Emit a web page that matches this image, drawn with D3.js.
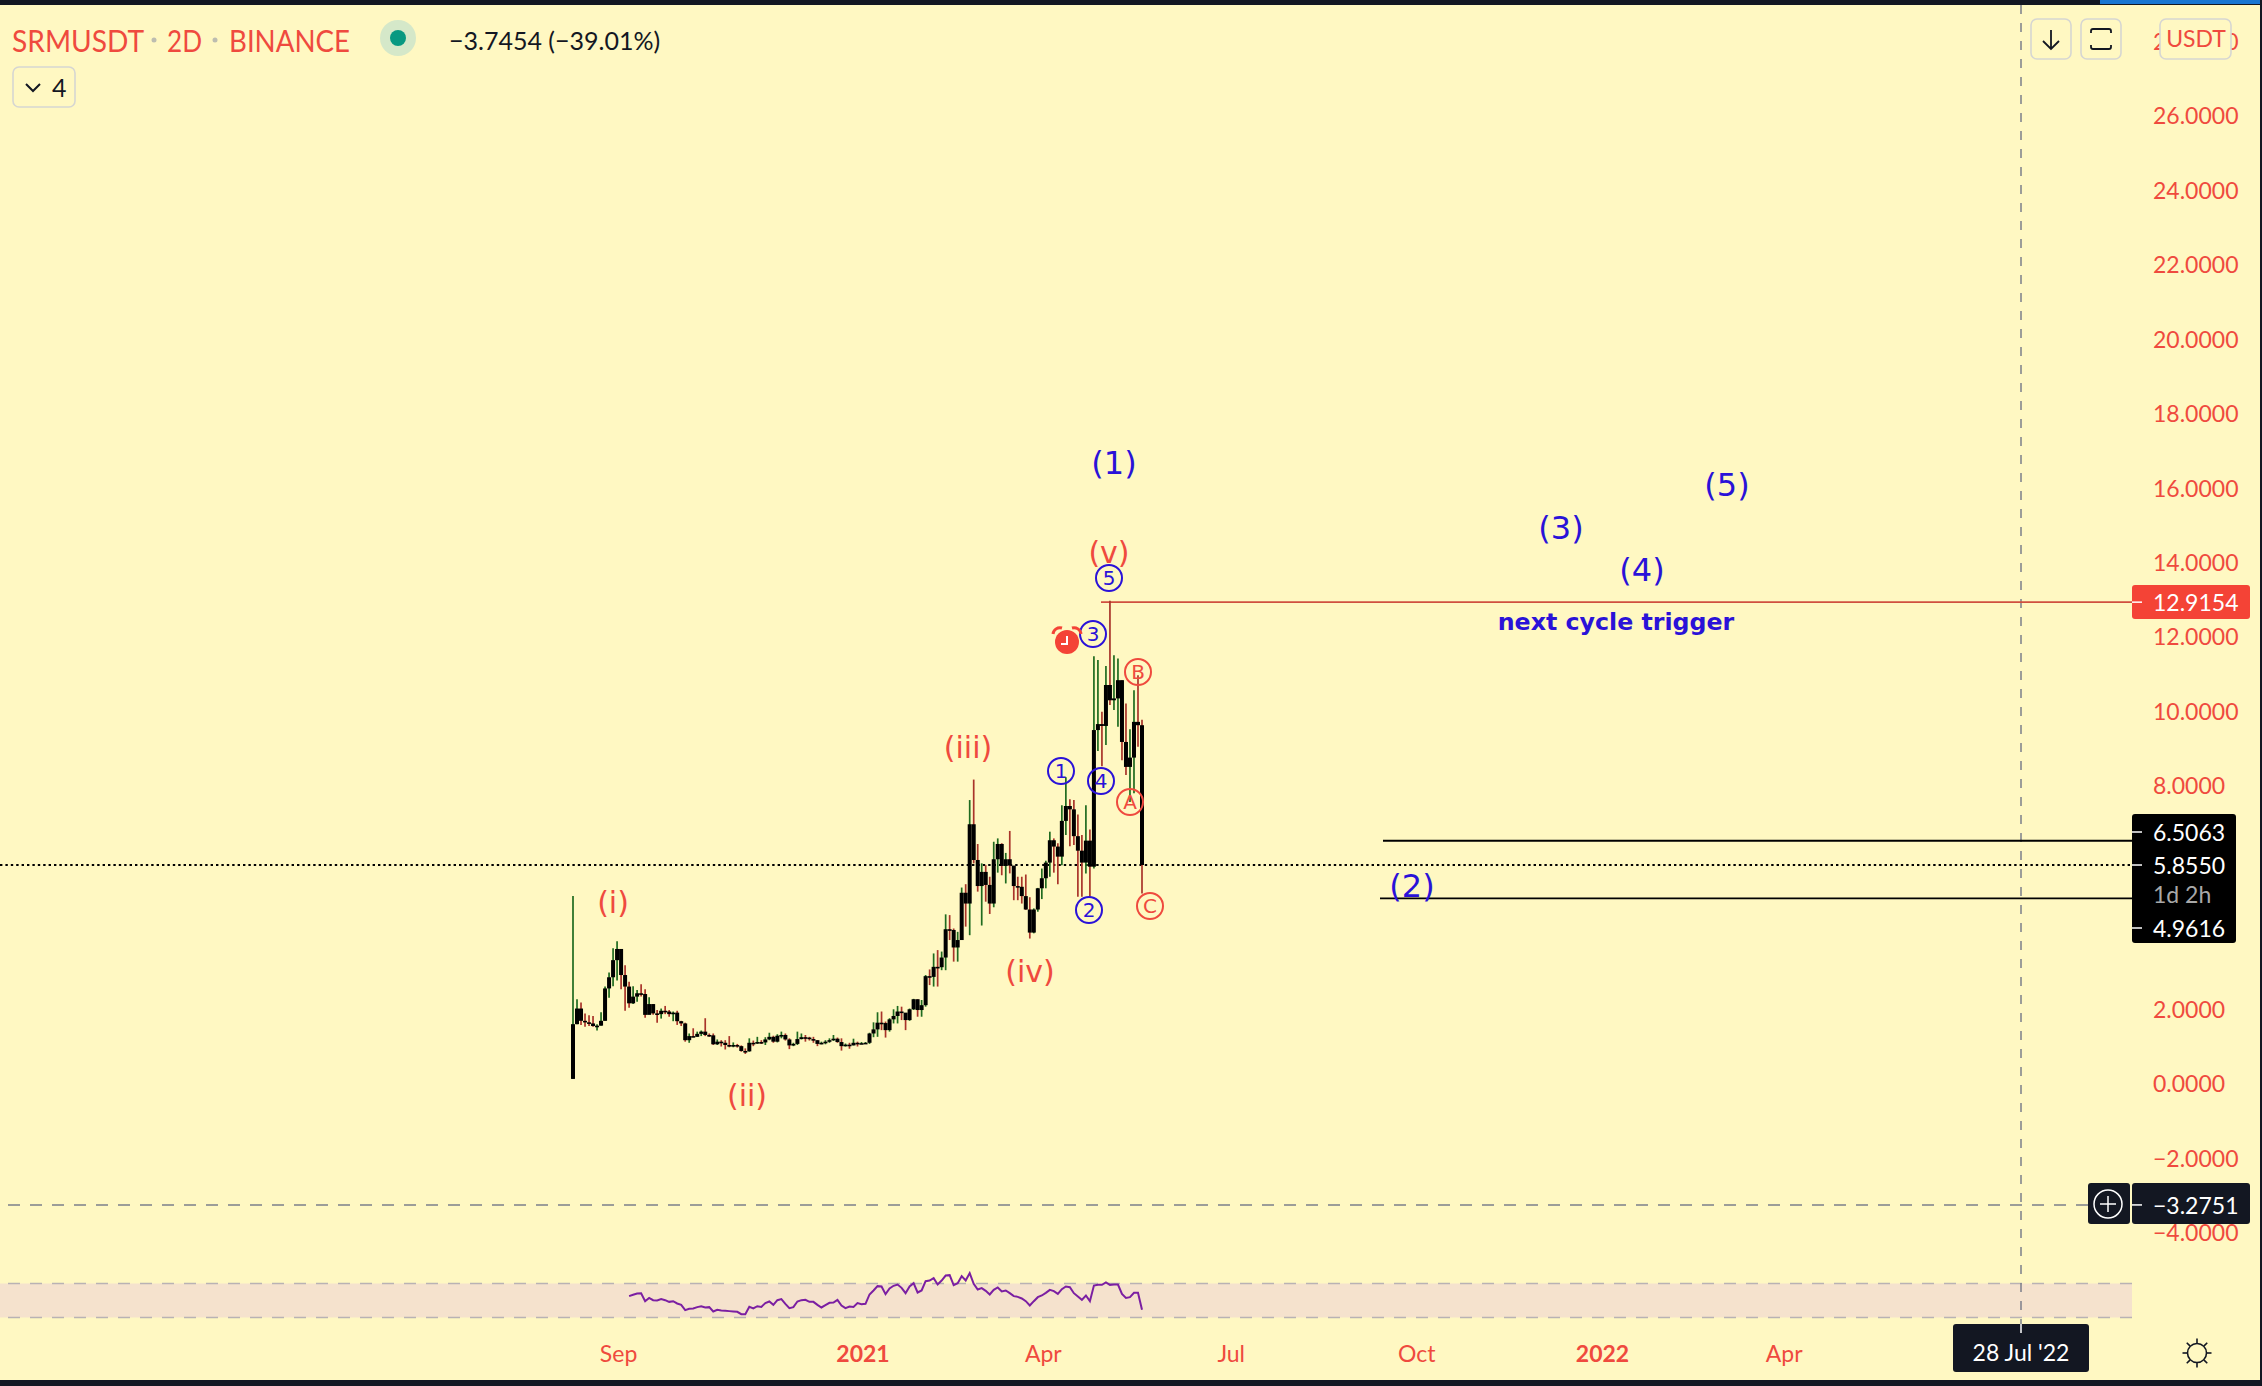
<!DOCTYPE html>
<html>

<head>
  <meta charset="utf-8">
  <title>SRMUSDT 2D</title>
  <script src="https://d3js.org/d3.v7.min.js"></script>
  <style>
    body,
    html {
      margin: 0;
      padding: 0;
      background: #131722;
    }

    svg {
      display: block;
    }

    text {
      font-family: Lato, "Open Sans", sans-serif;
    }

    .axis text {
      fill: #ef4a3e;
      font-size: 23px;
    }

    .axis .domain {
      display: none;
    }

    .wave {
      font-family: "DejaVu Sans", sans-serif;
      text-anchor: middle;
      dominant-baseline: central;
    }
  </style>
</head>

<body>
  <div id="chart"></div>

  <script>
    const firstOpen = 0.11
    const closes = [1.58, 2.00, 1.67, 1.63, 1.60, 1.53, 1.54, 1.67, 2.54, 2.84, 3.30, 3.60, 2.90, 2.59, 2.14, 2.32, 2.41, 2.39, 1.83, 2.12,
      1.87, 1.85, 1.94, 1.92, 1.85, 1.89, 1.66, 1.60, 1.15, 1.26, 1.24, 1.32, 1.38, 1.29, 1.28, 1.04, 1.11, 1.08, 1.02, 1.01,
      1.02, 0.99, 0.86, 0.85, 1.08, 1.07, 1.10, 1.09, 1.17, 1.24, 1.11, 1.27, 1.29, 1.17, 1.01, 1.05, 1.18, 1.23, 1.22, 1.18,
      1.15, 1.05, 1.08, 1.11, 1.15, 1.19, 1.10, 0.99, 1.03, 1.01, 1.08, 1.07, 1.07, 1.08, 1.33, 1.44, 1.62, 1.61, 1.42, 1.71,
      1.80, 1.92, 1.89, 1.69, 1.98, 2.25, 1.96, 2.09, 2.87, 2.85, 3.12, 3.11, 3.37, 4.13, 4.11, 3.64, 3.84, 5.11, 4.82, 6.95,
      5.99, 5.29, 5.67, 5.32, 4.82, 6.01, 6.42, 5.83, 6.01, 5.84, 5.29, 5.27, 5.02, 4.66, 4.04, 4.66, 5.23, 5.50, 5.92, 6.52,
      6.35, 6.08, 7.04, 7.44, 7.35, 6.63, 6.24, 5.92, 6.51, 5.81, 9.48, 9.64, 9.59, 10.69, 10.28, 10.33, 10.82, 9.16, 8.49, 8.74,
      9.70, 9.61, 5.855]
    const highs = [5.02, 2.25, 2.16, 1.87, 1.82, 1.80, 1.58, 1.90, 2.59, 2.97, 3.62, 3.81, 3.60, 3.16, 2.72, 2.60, 2.50, 2.65, 2.52, 2.30,
      2.12, 1.96, 2.00, 2.07, 1.96, 1.92, 1.94, 1.67, 1.62, 1.33, 1.47, 1.38, 1.41, 1.74, 1.33, 1.33, 1.17, 1.15, 1.15, 1.26,
      1.09, 1.05, 1.01, 0.93, 1.20, 1.14, 1.24, 1.15, 1.23, 1.35, 1.27, 1.31, 1.38, 1.33, 1.20, 1.08, 1.38, 1.33, 1.29, 1.24,
      1.24, 1.15, 1.11, 1.15, 1.20, 1.29, 1.22, 1.20, 1.06, 1.08, 1.19, 1.11, 1.10, 1.10, 1.35, 1.63, 1.90, 1.92, 1.65, 1.74,
      1.98, 2.07, 2.05, 1.87, 2.00, 2.26, 2.25, 2.23, 2.90, 3.05, 3.48, 3.57, 3.53, 4.53, 4.51, 4.15, 4.06, 5.25, 5.34, 7.60,
      8.15, 6.42, 5.90, 5.85, 5.54, 6.48, 6.57, 6.44, 6.18, 6.77, 5.65, 5.54, 5.54, 5.60, 4.99, 4.69, 5.24, 5.76, 5.97, 6.75,
      6.57, 6.44, 7.46, 8.21, 7.62, 7.60, 7.21, 6.66, 7.46, 6.81, 11.46, 11.36, 9.97, 11.20, 12.95, 11.49, 11.40, 10.82, 10.19, 9.50,
      10.55, 10.95, 9.76]
    const lows = [0.11, 1.58, 1.56, 1.51, 1.53, 1.51, 1.41, 1.54, 1.67, 2.29, 2.60, 2.75, 2.52, 1.94, 2.02, 2.12, 2.18, 2.32, 1.75, 1.85,
      1.83, 1.62, 1.73, 1.85, 1.78, 1.66, 1.56, 1.53, 1.11, 1.08, 1.23, 1.24, 1.26, 1.26, 1.24, 1.02, 1.02, 0.98, 0.90, 0.96,
      0.96, 0.95, 0.84, 0.78, 0.84, 0.99, 1.05, 1.05, 1.02, 1.15, 1.08, 1.09, 1.20, 1.14, 0.91, 0.99, 1.02, 1.17, 1.11, 1.14,
      1.08, 0.99, 1.04, 1.04, 1.08, 1.13, 1.08, 0.87, 0.98, 0.92, 1.01, 0.98, 1.05, 1.05, 1.05, 1.23, 1.24, 1.42, 1.22, 1.38,
      1.60, 1.60, 1.69, 1.42, 1.67, 1.96, 1.78, 1.78, 2.05, 2.63, 2.59, 2.59, 3.03, 3.03, 3.84, 3.26, 3.26, 3.97, 4.20, 3.97,
      5.90, 5.14, 4.23, 4.87, 4.54, 4.72, 5.65, 5.58, 5.36, 5.63, 4.91, 4.91, 4.82, 4.65, 3.88, 4.02, 4.60, 4.94, 5.23, 5.54,
      5.65, 5.34, 5.85, 6.66, 6.36, 6.39, 5.00, 5.00, 5.63, 5.00, 5.76, 8.92, 8.51, 9.08, 10.15, 10.02, 9.57, 8.67, 8.27, 7.55,
      7.78, 9.03, 5.09]
    const rsiValues = [55.1, 56.7, 58.2, 58.6, 49.2, 53.1, 50.4, 50, 51.6, 50.4, 48.4, 49.2, 46.5, 44.9, 38.6, 40.2, 40.6, 42.2, 43.3, 41.8,
      42.2, 37.1, 39, 38.2, 37.8, 37.5, 37.1, 36.7, 33.9, 33.9, 42.5, 40.6, 43.3, 42.5, 46.9, 48.8, 44.9, 50.4, 51.6, 46.1,
      41, 42.2, 48.8, 50.4, 50.8, 48.4, 48.4, 44.9, 41.8, 44.5, 47.3, 47.6, 50.8, 44.1, 41, 42.9, 42.5, 46.9, 45.7, 46.1,
      57.1, 61.8, 66.9, 66.5, 57.5, 64.1, 67.3, 68.8, 64.9, 58.6, 66.5, 70.4, 59.4, 61.8, 72.7, 73.5, 76.3, 68.8, 73.5, 79.4,
      79.8, 68, 70.4, 78.6, 73.5, 82.2, 69.6, 62.9, 64.5, 61.4, 57.1, 62.5, 65.3, 60.6, 61.8, 58.6, 55.1, 54.3, 52.4, 49.2,
      44.1, 49.2, 53.9, 55.9, 59, 62.5, 61, 57.8, 63.3, 66.5, 65.7, 58.6, 54.7, 50.8, 55.9, 49.2, 67.6, 68.4, 68.4, 71.2,
      68.4, 68.8, 68.8, 57.8, 53.1, 53.9, 59, 59, 39]

    const priceTicks = [28, 26, 24, 22, 20, 18, 16, 14, 12, 10, 8, 2, 0, -2, -4]
    const dateTicks = ['2020-09-01', '2021-01-01', '2021-04-01', '2021-07-03', '2021-10-02', '2022-01-01', '2022-04-01']
    const dateLabels = ['Sep', '2021', 'Apr', 'Jul', 'Oct', '2022', 'Apr']

    const startDate = '2020-08-10'
    const lastDate = '2021-05-21'
    const cursorDate = '2022-07-28'

    const triggerPrice = 12.9154
    const upperPrice = 6.5063
    const lastPrice = 5.855
    const lowerPrice = 4.9616
    const cursorPrice = -3.2751

    const waveLabels = ['(i)', '(ii)', '(iii)', '(iv)', '(v)']
    const waveSpots = [[613, 902], [747, 1095], [968, 747], [1030, 971], [1109, 552]]
    const cycleLabels = ['(1)', '(2)', '(3)', '(4)', '(5)']
    const cycleSpots = [[1114, 463], [1412, 886], [1561, 528], [1642, 570], [1727, 485]]
    const blueCircles = ['1', '2', '3', '4', '5']
    const blueSpots = [[1061, 771], [1089, 910], [1093, 634], [1101, 781], [1109, 578]]
    const redCircles = ['A', 'B', 'C']
    const redSpots = [[1130, 802], [1138, 672], [1150, 906]]

    const bgColor = '#fff8c2'
    const darkColor = '#131722'
    const redText = '#ef4a3e'
    const blueText = '#2a12d8'
    const upWick = '#1f6b1f'
    const downWick = '#a9342a'

    const paneRight = 2132
    const parseDate = d3.utcParse('%Y-%m-%d')

    const svg = d3.select('#chart').append('svg')
      .attr('width', 2262)
      .attr('height', 1386)

    svg.append('rect').attr('width', 2262).attr('height', 1386).attr('fill', darkColor)
    svg.append('rect').attr('x', 0).attr('y', 5).attr('width', 2260).attr('height', 1375).attr('fill', bgColor)
    svg.append('rect').attr('x', 2100).attr('y', 0).attr('width', 160).attr('height', 4).attr('fill', '#1976d2')

    const x = d3.scaleUtc()
      .domain([parseDate(startDate), parseDate(lastDate), parseDate('2022-01-01'), parseDate(cursorDate)])
      .range([573, 1142, 1601, 2021])

    const y = d3.scaleLinear()
      .domain([0, 26])
      .range([1083, 115])

    const yRsi = d3.scaleLinear()
      .domain([30, 70])
      .range([1317.5, 1283.5])

    const barDates = closes.map((d, i) => d3.utcDay.offset(parseDate(startDate), i * 2))
    const candles = closes.map((c, i) => ({
      date: barDates[i],
      open: i === 0 ? firstOpen : closes[i - 1],
      close: c,
      high: highs[i],
      low: lows[i]
    }))

    // rsi pane
    svg.append('rect')
      .attr('x', 0).attr('width', paneRight)
      .attr('y', yRsi(70)).attr('height', yRsi(30) - yRsi(70))
      .attr('fill', '#f5e2cd')
    svg.selectAll('.rsi-band')
      .data([70, 30])
      .enter()
      .append('line')
      .attr('x1', 8).attr('x2', paneRight)
      .attr('y1', d => yRsi(d)).attr('y2', d => yRsi(d))
      .attr('stroke', '#b9b2b4')
      .attr('stroke-width', 1.5)
      .attr('stroke-dasharray', '12 10')

    const rsiLine = d3.line()
      .x((d, i) => x(barDates[i + closes.length - rsiValues.length]))
      .y(d => yRsi(d))
    svg.append('path')
      .datum(rsiValues)
      .attr('d', rsiLine)
      .attr('fill', 'none')
      .attr('stroke', '#7b1fa2')
      .attr('stroke-width', 2)

    // crosshair and last price line
    svg.append('line')
      .attr('x1', x(parseDate(cursorDate))).attr('x2', x(parseDate(cursorDate)))
      .attr('y1', 5).attr('y2', 1324)
      .attr('stroke', '#7c7f8a').attr('stroke-width', 1.5).attr('stroke-dasharray', '9 9')
    svg.append('line')
      .attr('x1', 8).attr('x2', 2090)
      .attr('y1', y(cursorPrice)).attr('y2', y(cursorPrice))
      .attr('stroke', '#7c7f8a').attr('stroke-width', 1.5).attr('stroke-dasharray', '12 10')
    svg.append('line')
      .attr('x1', 0).attr('x2', paneRight)
      .attr('y1', y(lastPrice)).attr('y2', y(lastPrice))
      .attr('stroke', '#000').attr('stroke-width', 2).attr('stroke-dasharray', '2.4 3')

    // horizontal levels
    svg.append('line')
      .attr('x1', 1101).attr('x2', paneRight)
      .attr('y1', y(triggerPrice)).attr('y2', y(triggerPrice))
      .attr('stroke', '#d0503f').attr('stroke-width', 1.8)
    svg.append('line')
      .attr('x1', 1383).attr('x2', paneRight)
      .attr('y1', y(upperPrice)).attr('y2', y(upperPrice))
      .attr('stroke', '#000').attr('stroke-width', 1.8)
    svg.append('line')
      .attr('x1', 1380).attr('x2', paneRight)
      .attr('y1', y(lowerPrice)).attr('y2', y(lowerPrice))
      .attr('stroke', '#000').attr('stroke-width', 1.8)

    // candles
    const chart = svg.append('g')
    chart.selectAll('.wick')
      .data(candles)
      .enter()
      .append('line')
      .attr('x1', d => x(d.date)).attr('x2', d => x(d.date))
      .attr('y1', d => y(d.high)).attr('y2', d => y(d.low))
      .attr('stroke', d => d.close >= d.open ? upWick : downWick)
      .attr('stroke-width', 1.7)
    chart.selectAll('.body')
      .data(candles)
      .enter()
      .append('rect')
      .attr('x', d => x(d.date) - 2)
      .attr('width', 4)
      .attr('y', d => y(Math.max(d.open, d.close)))
      .attr('height', d => Math.max(1.6, Math.abs(y(d.open) - y(d.close))))
      .attr('fill', '#000')

    // wave labels
    svg.selectAll('.red-wave')
      .data(waveLabels)
      .enter()
      .append('text')
      .attr('class', 'wave')
      .attr('x', (d, i) => waveSpots[i][0])
      .attr('y', (d, i) => waveSpots[i][1])
      .attr('font-size', 30)
      .attr('fill', redText)
      .text(d => d)
    svg.selectAll('.blue-wave')
      .data(cycleLabels)
      .enter()
      .append('text')
      .attr('class', 'wave')
      .attr('x', (d, i) => cycleSpots[i][0])
      .attr('y', (d, i) => cycleSpots[i][1])
      .attr('font-size', 32)
      .attr('fill', blueText)
      .text(d => d)

    function circleLabels(labels, spots, color) {
      const g = svg.append('g')
      g.selectAll('circle')
        .data(labels)
        .enter()
        .append('circle')
        .attr('cx', (d, i) => spots[i][0])
        .attr('cy', (d, i) => spots[i][1])
        .attr('r', 13)
        .attr('fill', 'none')
        .attr('stroke', color)
        .attr('stroke-width', 2)
      g.selectAll('text')
        .data(labels)
        .enter()
        .append('text')
        .attr('class', 'wave')
        .attr('x', (d, i) => spots[i][0])
        .attr('y', (d, i) => spots[i][1])
        .attr('font-size', 20)
        .attr('fill', color)
        .text(d => d)
    }
    circleLabels(blueCircles, blueSpots, blueText)
    circleLabels(redCircles, redSpots, redText)

    svg.append('text')
      .attr('class', 'wave')
      .attr('x', 1616).attr('y', 622)
      .attr('font-size', 23.7)
      .attr('font-weight', 'bold')
      .attr('fill', blueText)
      .text('next cycle trigger')

    // alarm icon
    const alarm = svg.append('g').attr('transform', 'translate(1067,642)')
    alarm.append('circle').attr('r', 12).attr('fill', '#f44336')
    alarm.append('path').attr('d', 'M-14,-8 A7,7 0 0 1 -5,-14').attr('fill', 'none').attr('stroke', '#f44336').attr('stroke-width', 3)
    alarm.append('path').attr('d', 'M14,-8 A7,7 0 0 0 5,-14').attr('fill', 'none').attr('stroke', '#f44336').attr('stroke-width', 3)
    alarm.append('path').attr('d', 'M0,-6 V2 H-6').attr('fill', 'none').attr('stroke', '#fff').attr('stroke-width', 2)

    // axes
    const axisY = svg.append('g')
      .attr('class', 'axis')
      .attr('transform', 'translate(2153,0)')
      .call(d3.axisRight(y).tickValues(priceTicks).tickSize(0).tickPadding(0)
        .tickFormat(d => (d < 0 ? '\u2212' : '') + Math.abs(d).toFixed(4)))
    axisY.selectAll('text').attr('dy', '0.38em')

    const axisX = svg.append('g')
      .attr('class', 'axis')
      .attr('transform', 'translate(1,1346)')
      .call(d3.axisBottom(x).tickValues(dateTicks.map(parseDate)).tickSize(0).tickPadding(0)
        .tickFormat((d, i) => dateLabels[i]))
    axisX.selectAll('text')
      .attr('font-weight', (d, i) => dateLabels[i].length === 4 ? 'bold' : 'normal')

    // price labels
    function priceLabel(value, labelY) {
      svg.append('line')
        .attr('x1', paneRight).attr('x2', paneRight + 10)
        .attr('y1', labelY).attr('y2', labelY)
        .attr('stroke', '#fff').attr('stroke-width', 1.5)
      svg.append('text')
        .attr('x', 2153).attr('y', labelY)
        .attr('dominant-baseline', 'central')
        .attr('font-size', 23)
        .attr('fill', '#fff')
        .text((value < 0 ? '\u2212' : '') + Math.abs(value).toFixed(4))
    }
    svg.append('rect').attr('x', paneRight).attr('y', 585).attr('width', 118).attr('height', 34).attr('rx', 3).attr('fill', '#f44336')
    svg.append('rect').attr('x', paneRight).attr('y', 814).attr('width', 104).attr('height', 129).attr('rx', 3).attr('fill', '#000')
    svg.append('rect').attr('x', paneRight).attr('y', 1183).attr('width', 118).attr('height', 41).attr('rx', 3).attr('fill', darkColor)
    priceLabel(triggerPrice, y(triggerPrice))
    priceLabel(upperPrice, 832)
    priceLabel(lastPrice, y(lastPrice))
    priceLabel(lowerPrice, 928)
    priceLabel(cursorPrice, y(cursorPrice))

    svg.append('text')
      .attr('x', 2153).attr('y', 894)
      .attr('dominant-baseline', 'central')
      .attr('font-size', 23)
      .attr('fill', '#a8a8a8')
      .text('1d 2h')

    // plus button
    svg.append('rect').attr('x', 2088).attr('y', 1183).attr('width', 42).attr('height', 41).attr('rx', 3).attr('fill', darkColor)
    svg.append('circle').attr('cx', 2108).attr('cy', 1204).attr('r', 14).attr('fill', 'none').attr('stroke', '#fff').attr('stroke-width', 1.5)
    svg.append('path').attr('d', 'M2100,1204 H2116 M2108,1196 V1212').attr('stroke', '#fff').attr('stroke-width', 1.5)

    // date label
    svg.append('rect').attr('x', 1953).attr('y', 1324).attr('width', 136).attr('height', 48).attr('rx', 3).attr('fill', darkColor)
    svg.append('line').attr('x1', 2021).attr('x2', 2021).attr('y1', 1324).attr('y2', 1333).attr('stroke', '#fff').attr('stroke-width', 1.5)
    svg.append('text')
      .attr('x', 2021).attr('y', 1352)
      .attr('text-anchor', 'middle').attr('dominant-baseline', 'central')
      .attr('font-size', 23)
      .attr('fill', '#fff')
      .text("28 Jul '22")

    // sun icon
    const sun = svg.append('g').attr('transform', 'translate(2197,1353)').attr('stroke', '#131722').attr('stroke-width', 1.6)
    sun.append('circle').attr('r', 9.5).attr('fill', 'none')
    sun.selectAll('line')
      .data(d3.range(8))
      .enter()
      .append('line')
      .attr('y1', 10).attr('y2', 14.5)
      .attr('transform', d => `rotate(${d * 45})`)

    // header
    function header(label, xPos, size, color, length) {
      const t = svg.append('text')
        .attr('x', xPos).attr('y', 40)
        .attr('dominant-baseline', 'central')
        .attr('font-size', size)
        .attr('fill', color)
        .text(label)
      if (length) {
        t.attr('textLength', length).attr('lengthAdjust', 'spacingAndGlyphs')
      }
    }
    header('SRMUSDT', 12, 30, redText, 132)
    header('2D', 167, 30, redText, 35)
    header('BINANCE', 229, 30, redText, 121)
    svg.selectAll('.sep')
      .data([154, 215])
      .enter()
      .append('circle')
      .attr('cx', d => d).attr('cy', 40).attr('r', 2.5).attr('fill', '#bdbdb0')
    svg.append('circle').attr('cx', 398).attr('cy', 38).attr('r', 18).attr('fill', '#d5e8c9')
    svg.append('circle').attr('cx', 398).attr('cy', 38).attr('r', 8).attr('fill', '#089981')
    header('\u22123.7454 (\u221239.01%)', 449, 25, '#131722')

    function button(left, top, w, h) {
      svg.append('rect')
        .attr('x', left).attr('y', top)
        .attr('width', w).attr('height', h)
        .attr('rx', 6)
        .attr('fill', bgColor)
        .attr('stroke', '#d6d6d2').attr('stroke-width', 1.6)
    }
    button(13, 67, 62, 40)
    svg.append('path').attr('d', 'M26,84 L33,91 L40,84').attr('fill', 'none').attr('stroke', '#131722').attr('stroke-width', 2)
    svg.append('text').attr('x', 52).attr('y', 87).attr('dominant-baseline', 'central')
      .attr('font-size', 25).attr('fill', '#131722').text('4')

    button(2031, 19, 40, 40)
    svg.append('path').attr('d', 'M2051,30 V49 M2043,41 L2051,49 L2059,41').attr('fill', 'none').attr('stroke', '#131722').attr('stroke-width', 1.8)
    button(2081, 19, 40, 40)
    svg.append('path')
      .attr('d', 'M2091,33 V31 Q2091,29 2093,29 H2109 Q2111,29 2111,31 V33 M2091,45 V47 Q2091,49 2093,49 H2109 Q2111,49 2111,47 V45')
      .attr('fill', 'none').attr('stroke', '#131722').attr('stroke-width', 1.8)
    button(2160, 19, 71, 40)
    svg.append('text')
      .attr('x', 2196).attr('y', 38)
      .attr('text-anchor', 'middle').attr('dominant-baseline', 'central')
      .attr('font-size', 23)
      .attr('fill', redText)
      .text('USDT')
  </script>
</body>

</html>
